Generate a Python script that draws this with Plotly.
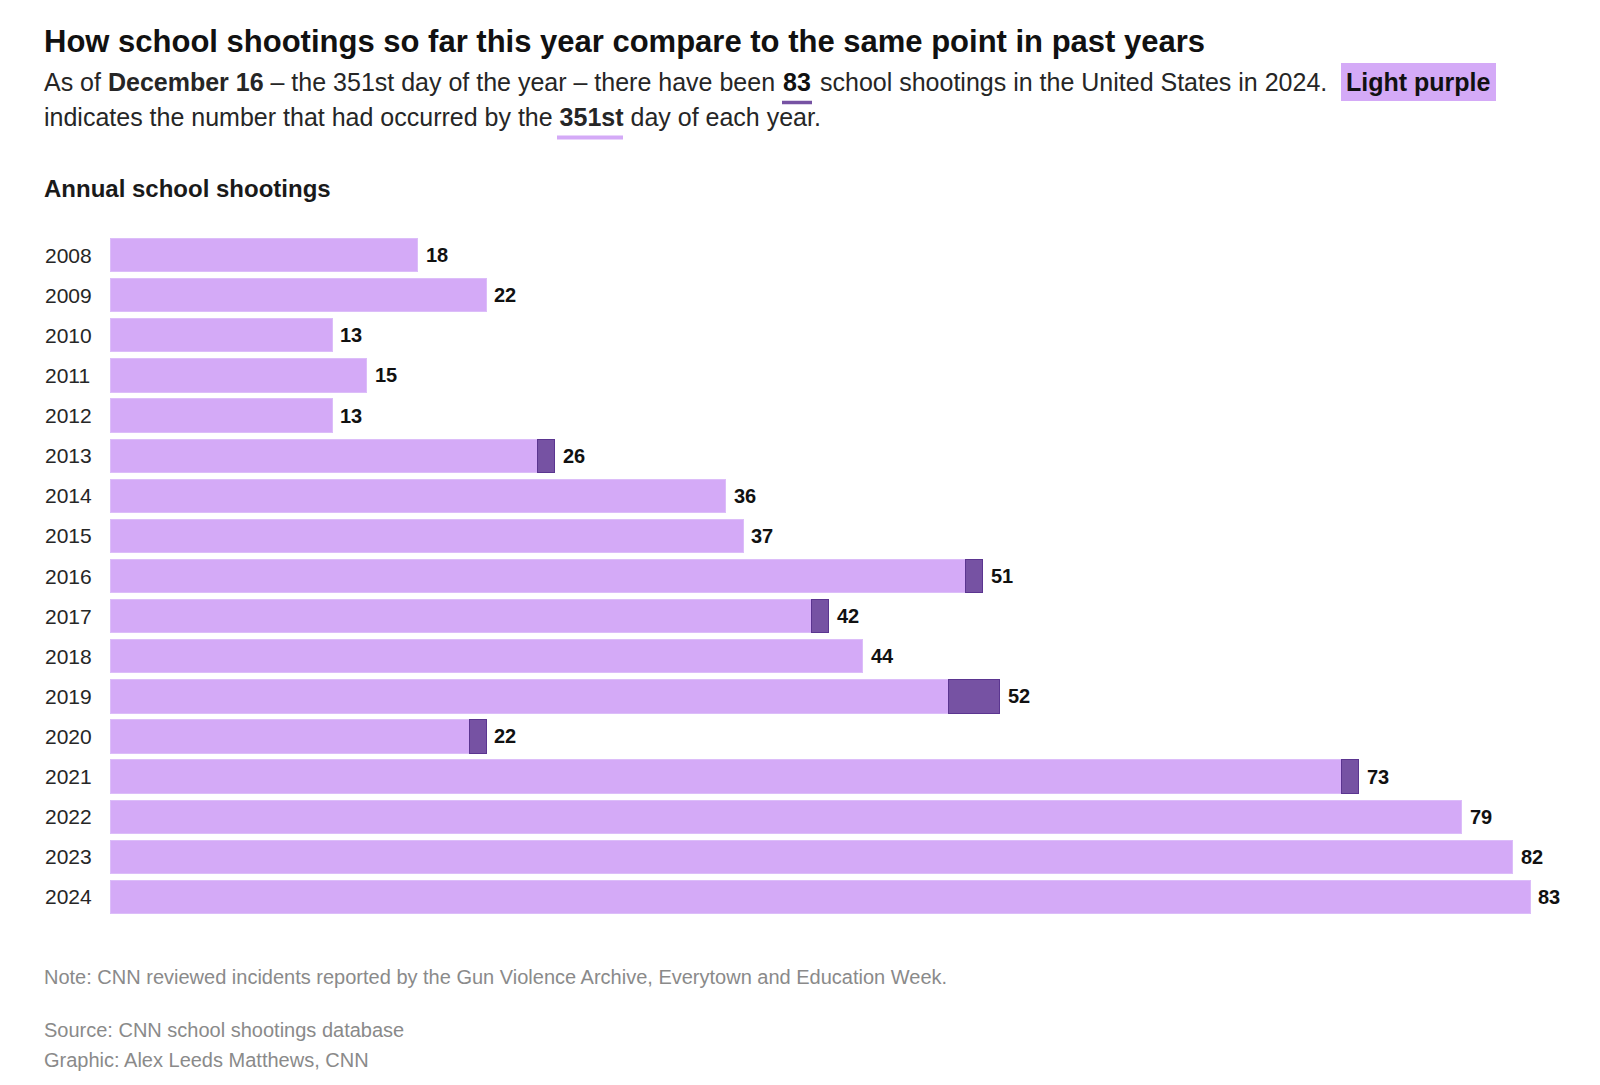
import plotly.graph_objects as go

years = ["2008", "2009", "2010", "2011", "2012", "2013", "2014", "2015", "2016",
         "2017", "2018", "2019", "2020", "2021", "2022", "2023", "2024"]
annual_totals = [18, 22, 13, 15, 13, 26, 36, 37, 51, 42, 44, 52, 22, 73, 79, 82, 83]
by_day_351 = [18, 22, 13, 15, 13, 25, 36, 37, 50, 41, 44, 49, 21, 72, 79, 82, 83]
remainder = [t - d for t, d in zip(annual_totals, by_day_351)]

LIGHT = "#d4aaf7"
DARK = "#7652a3"
FONT = "Liberation Sans"

# figure sits inside the page's 8px body margin
W, H = 1584, 1069
L, R, T, B = 102, 40, 227, 160
PW = W - L - R
PH = H - T - B
X_MAX = 83 * PW / (1522 - L)
TX = 34  # left edge of text blocks


def px(x):
    return (x - L) / PW


def py(y):
    return (H - B - y) / PH


fig = go.Figure()
fig.add_trace(go.Bar(
    y=years, x=by_day_351, orientation="h",
    marker=dict(color=LIGHT, line=dict(color="#dcbdf9", width=1)),
    hoverinfo="x+y", showlegend=False))
fig.add_trace(go.Bar(
    y=years, x=remainder, orientation="h",
    marker=dict(color=DARK, line=dict(color="#5b3590", width=[1 if r > 0 else 0 for r in remainder])),
    hoverinfo="x+y", showlegend=False))

annotations = []
for i, (yr, tot) in enumerate(zip(years, annual_totals)):
    annotations.append(dict(x=px(TX + 1), y=i, xref="paper", yref="y", text=yr, showarrow=False,
                            xanchor="left", yanchor="middle",
                            font=dict(family=FONT, size=21, color="#262626")))
    annotations.append(dict(x=tot, y=i, xref="x", yref="y", text=f"<b>{tot}</b>", showarrow=False,
                            xanchor="left", yanchor="middle", xshift=6,
                            font=dict(family=FONT, size=20, color="#111111")))


def txt(x, y, text, size, color="#262626", anchor="left"):
    return dict(x=px(x), y=py(y), xref="paper", yref="paper", showarrow=False,
                xanchor=anchor, yanchor="middle", text=text,
                font=dict(family=FONT, size=size, color=color))


annotations += [
    txt(TX, 33, "<b>How school shootings so far this year compare to the same point in past years</b>", 31, "#111111"),
    txt(TX, 74, "As of <b>December 16</b> – the 351st day of the year – there have been", 25),
    txt(789, 74, "<b>83</b>", 25, "#111111", "center"),
    txt(810, 74, "school shootings in the United States in 2024.", 25),
    txt(1410.5, 74, "<b>Light purple</b>", 25, "#111111", "center"),
    txt(TX, 109, "indicates the number that had occurred by the <b>351st</b> day of each year.", 25),
    txt(TX, 180, "<b>Annual school shootings</b>", 24, "#1a1a1a"),
    txt(TX, 969, "Note: CNN reviewed incidents reported by the Gun Violence Archive, Everytown and Education Week.", 20, "#8a8a8a"),
    txt(TX, 1022, "Source: CNN school shootings database", 20, "#8a8a8a"),
    txt(TX, 1052, "Graphic: Alex Leeds Matthews, CNN", 20, "#8a8a8a"),
]

shapes = [
    dict(type="rect", xref="paper", yref="paper", x0=px(1333), x1=px(1488), y0=py(55), y1=py(93),
         fillcolor=LIGHT, line=dict(width=0), layer="below"),
    dict(type="line", xref="paper", yref="paper", x0=px(774), x1=px(804), y0=py(94.5), y1=py(94.5),
         line=dict(color=DARK, width=3.5)),
    dict(type="line", xref="paper", yref="paper", x0=px(549), x1=px(615), y0=py(129.5), y1=py(129.5),
         line=dict(color=LIGHT, width=4)),
]

fig.update_layout(
    width=W, height=H, barmode="stack", bargap=0.17,
    margin=dict(l=L, r=R, t=T, b=B),
    paper_bgcolor="white", plot_bgcolor="white",
    xaxis=dict(range=[0, X_MAX], visible=False, fixedrange=True),
    yaxis=dict(type="category", categoryorder="array", categoryarray=years,
               range=[len(years) - 0.5, -0.5], autorange=False,
               showticklabels=False, showgrid=False, zeroline=False, ticks="", fixedrange=True),
    annotations=annotations, shapes=shapes,
    font=dict(family=FONT),
)

fig.write_html("out.html")
